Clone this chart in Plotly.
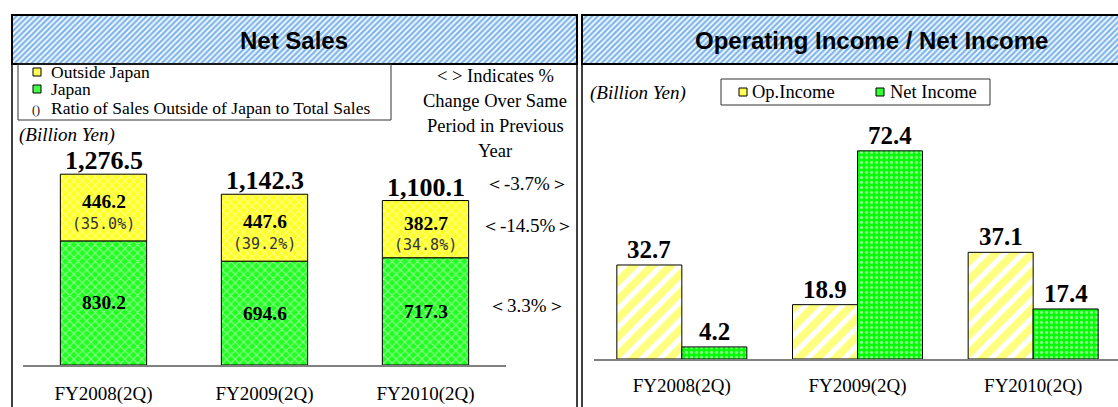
import plotly.graph_objects as go

W, H = 1118, 407

# ---------------- data ----------------
categories = ["FY2008(2Q)", "FY2009(2Q)", "FY2010(2Q)"]
outside_japan = [446.2, 447.6, 382.7]
japan = [830.2, 694.6, 717.3]
total_sales = [1276.5, 1142.3, 1100.1]
outside_ratio = [35.0, 39.2, 34.8]
change_labels = ["＜-3.7%＞", "＜-14.5%＞", "＜3.3%＞"]   # total / outside / japan
op_income = [32.7, 18.9, 37.1]
net_income = [4.2, 72.4, 17.4]

SERIF = "Liberation Serif, Times New Roman, serif"
SANS = "Liberation Sans, Arial, sans-serif"
MONO = "DejaVu Sans Mono, monospace"
TXT = 18.5
LEG = 17.5


def px(x):
    return x / W


def py(y):
    return 1 - y / H


idx = list(range(len(categories)))

fig = go.Figure()

# ---------- header bands (patterned) ----------
for xa, ya in (("x3", "y3"), ("x4", "y4")):
    fig.add_trace(go.Bar(
        x=[0], y=[1], width=[1], offset=-0.5, xaxis=xa, yaxis=ya,
        marker=dict(color="white", line=dict(width=0),
                    pattern=dict(shape="/", fgcolor="#80b6ea", bgcolor="white",
                                 size=4, solidity=0.6, fillmode="replace")),
        showlegend=False, hoverinfo="skip"))

# ---------- left: net sales stacked ----------
LW = 0.536
fig.add_trace(go.Bar(
    name="Japan", x=idx, y=japan, xaxis="x", yaxis="y",
    width=LW, offset=-LW / 2,
    marker=dict(color="#00ff00", line=dict(color="black", width=1),
                pattern=dict(shape="x", fgcolor="white", bgcolor="#22ff22",
                             size=6, solidity=0.3)),
    showlegend=False))
fig.add_trace(go.Bar(
    name="Outside Japan", x=idx, y=outside_japan, base=japan, xaxis="x", yaxis="y",
    width=LW, offset=-LW / 2,
    marker=dict(color="#ffff00", line=dict(color="black", width=1),
                pattern=dict(shape="x", fgcolor="white", bgcolor="#ffff22",
                             size=6, solidity=0.3)),
    showlegend=False))

# ---------- right: op income / net income ----------
RW = 0.37
fig.add_trace(go.Bar(
    name="Op.Income", x=idx, y=op_income, xaxis="x2", yaxis="y2",
    width=RW, offset=-RW,
    marker=dict(color="white", line=dict(color="black", width=1),
                pattern=dict(shape="/", fgcolor="#ffff00", bgcolor="white",
                             size=13, solidity=0.6)),
    showlegend=False))
fig.add_trace(go.Bar(
    name="Net Income", x=idx, y=net_income, xaxis="x2", yaxis="y2",
    width=RW, offset=0,
    marker=dict(color="#00ff00", line=dict(color="black", width=1),
                pattern=dict(shape=".", fgcolor="white", bgcolor="#00ff00",
                             size=5, solidity=0.35)),
    showlegend=False))

ann = []


def A(**kw):
    kw.setdefault("showarrow", False)
    kw.setdefault("xanchor", "center")
    kw.setdefault("yanchor", "middle")
    ann.append(kw)


# header titles
A(text="<b>Net Sales</b>", xref="paper", yref="paper", x=px(294), y=py(40),
  font=dict(family=SANS, size=24, color="black"))
A(text="<b>Operating Income / Net Income</b>", xref="paper", yref="paper", x=px(871), y=py(40),
  font=dict(family=SANS, size=24, color="black"))

# left chart labels
for i in idx:
    A(text="<b>{:,.1f}</b>".format(total_sales[i]), x=i, y=japan[i] + outside_japan[i],
      xref="x", yref="y", yanchor="bottom", yshift=-3,
      font=dict(family=SERIF, size=26, color="black"))
    mid_o = japan[i] + outside_japan[i] / 2
    A(text="<b>{:.1f}</b>".format(outside_japan[i]), x=i, y=mid_o,
      xref="x", yref="y", yshift=6, font=dict(family=SERIF, size=19.5, color="black"))
    A(text="({:.1f}%)".format(outside_ratio[i]), x=i, y=mid_o,
      xref="x", yref="y", yshift=-16, font=dict(family=MONO, size=15, color="#333333"))
    A(text="<b>{:.1f}</b>".format(japan[i]), x=i, y=japan[i] / 2,
      xref="x", yref="y", font=dict(family=SERIF, size=19.5, color="black"))

# change labels beside last bar
last = idx[-1]
chg_y = [japan[last] + outside_japan[last], japan[last] + outside_japan[last] / 2, japan[last] / 2]
chg_shift = [17, 4, 6]
for lab, yv, sh in zip(change_labels, chg_y, chg_shift):
    A(text=lab, x=px(527), y=yv, xref="paper", yref="y", yshift=sh,
      font=dict(family=SERIF, size=19, color="black"))

# indicates text
for k, line in enumerate(["&lt; &gt; Indicates %", "Change Over Same", "Period in Previous", "Year"]):
    A(text=line, x=px(495), y=py(76 + 25 * k), xref="paper", yref="paper",
      font=dict(family=SERIF, size=TXT, color="black"))

# billion yen
A(text="<i>(Billion Yen)</i>", x=px(17), y=py(135), xref="paper", yref="paper", xanchor="left",
  font=dict(family=SERIF, size=19, color="black"))
A(text="<i>(Billion Yen)</i>", x=px(588), y=py(93), xref="paper", yref="paper", xanchor="left",
  font=dict(family=SERIF, size=19, color="black"))

# left legend texts
for t, yy in [("Outside Japan", 72), ("Japan", 89)]:
    A(text=t, x=px(49), y=py(yy), xref="paper", yref="paper", xanchor="left",
      font=dict(family=SERIF, size=LEG, color="black"))
A(text="()", x=px(36), y=py(110), xref="paper", yref="paper",
  font=dict(family=SERIF, size=12, color="black"))
A(text="Ratio of Sales Outside of Japan to Total Sales",
  x=px(49), y=py(108), xref="paper", yref="paper", xanchor="left",
  font=dict(family=SERIF, size=LEG, color="black"))

# right legend texts
A(text="Op.Income", x=px(750), y=py(92), xref="paper", yref="paper", xanchor="left",
  font=dict(family=SERIF, size=TXT, color="black"))
A(text="Net Income", x=px(888), y=py(92), xref="paper", yref="paper", xanchor="left",
  font=dict(family=SERIF, size=TXT, color="black"))

# right chart labels
for i in idx:
    A(text="<b>{:.1f}</b>".format(op_income[i]), x=i - RW / 2, y=op_income[i],
      xref="x2", yref="y2", yanchor="bottom", font=dict(family=SERIF, size=25, color="black"))
    A(text="<b>{:.1f}</b>".format(net_income[i]), x=i + RW / 2, y=net_income[i],
      xref="x2", yref="y2", yanchor="bottom", font=dict(family=SERIF, size=25, color="black"))

shapes = []
BL = dict(color="black", width=1.5)
# panel borders
for xx in (12, 577, 582):
    shapes.append(dict(type="line", xref="paper", yref="paper", x0=px(xx), x1=px(xx),
                       y0=py(15), y1=0, line=BL))
# header borders
shapes.append(dict(type="rect", xref="paper", yref="paper", x0=px(12), x1=px(577),
                   y0=py(15), y1=py(64), line=dict(color="black", width=2)))
shapes.append(dict(type="rect", xref="paper", yref="paper", x0=px(582), x1=px(1125),
                   y0=py(15), y1=py(64), line=dict(color="black", width=2)))
# left legend box
shapes.append(dict(type="rect", xref="paper", yref="paper", x0=px(18), x1=px(391),
                   y0=py(120), y1=py(64), line=dict(color="#333333", width=1)))
# legend swatches
sw = [(33, 72, "#ffff55"), (33, 89, "#44ff44"), (739, 92, "#ffff55"), (876, 92, "#33ff33")]
for sx, sy, c in sw:
    shapes.append(dict(type="rect", xref="paper", yref="paper", x0=px(sx), x1=px(sx + 8),
                       y0=py(sy + 4), y1=py(sy - 4), fillcolor=c, line=dict(color="black", width=1)))
# right legend box
shapes.append(dict(type="rect", xref="paper", yref="paper", x0=px(721), x1=px(990),
                   y0=py(105), y1=py(79), line=dict(color="#333333", width=1)))

AX_COMMON = dict(showgrid=False, zeroline=False, ticks="", fixedrange=True)
fig.update_layout(
    width=W, height=H, margin=dict(l=0, r=0, t=0, b=0),
    paper_bgcolor="white", plot_bgcolor="rgba(0,0,0,0)",
    barmode="overlay", showlegend=False,
    xaxis=dict(domain=[px(23), px(506)], range=[-0.5, 2.5], tickvals=idx, ticktext=categories,
               showline=True, linecolor="#808080", linewidth=1.5, ticklabelstandoff=10,
               tickfont=dict(family=SERIF, size=19, color="black"), **AX_COMMON),
    yaxis=dict(domain=[py(365), py(130)], range=[0, (365 - 130) / 0.1495], visible=False, **AX_COMMON),
    xaxis2=dict(domain=[px(594), 1.0], range=[-0.5, 2.5 - 3 / 176], tickvals=idx, ticktext=categories,
                showline=True, linecolor="#808080", linewidth=1.5, ticklabelstandoff=8,
                tickfont=dict(family=SERIF, size=19, color="black"), anchor="y2", **AX_COMMON),
    yaxis2=dict(domain=[py(359), py(140)], range=[0, (359 - 140) / 2.875], visible=False,
                anchor="x2", **AX_COMMON),
    xaxis3=dict(domain=[px(12), px(577)], range=[-0.5, 0.5], visible=False, anchor="y3", **AX_COMMON),
    yaxis3=dict(domain=[py(64), py(15)], range=[0, 1], visible=False, anchor="x3", **AX_COMMON),
    xaxis4=dict(domain=[px(582), 1.0], range=[-0.5, 0.5], visible=False, anchor="y4", **AX_COMMON),
    yaxis4=dict(domain=[py(64), py(15)], range=[0, 1], visible=False, anchor="x4", **AX_COMMON),
    annotations=ann, shapes=shapes,
)

fig.write_html("out.html")
